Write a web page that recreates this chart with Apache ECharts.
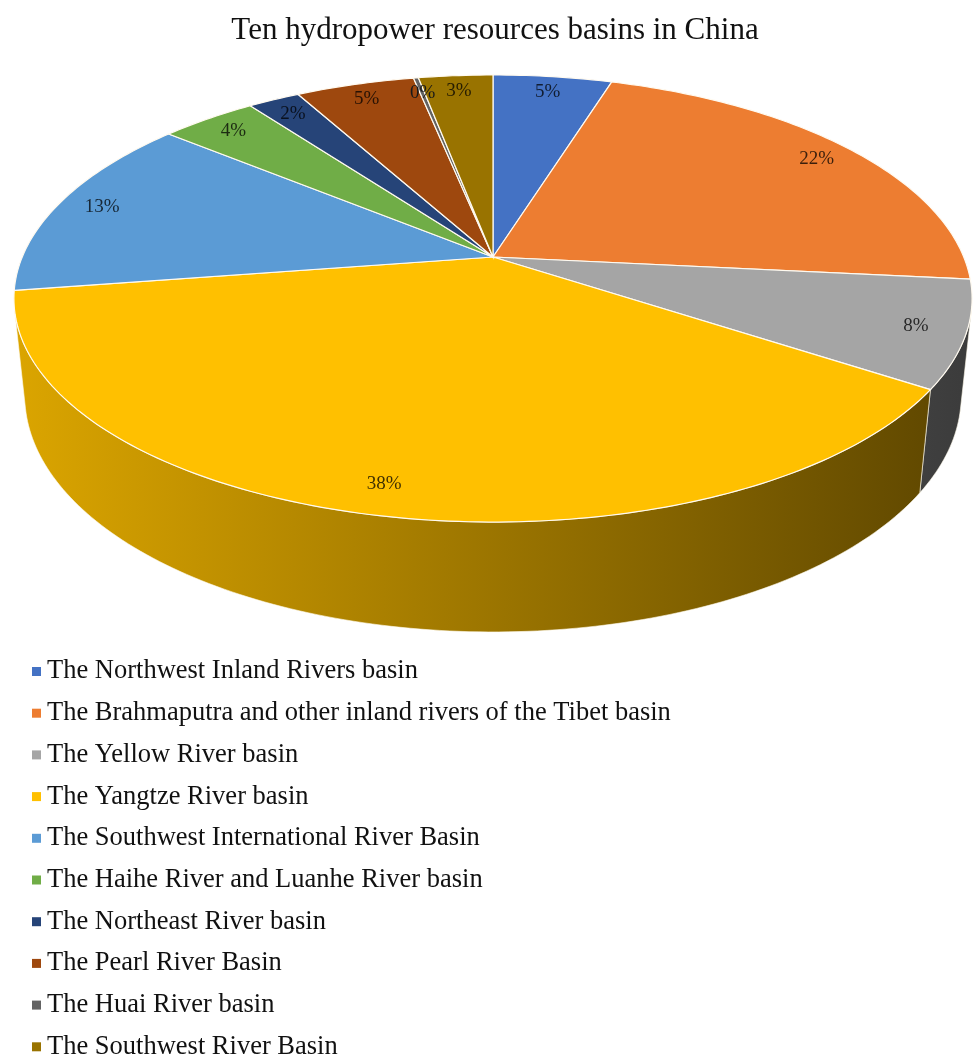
<!DOCTYPE html>
<html><head><meta charset="utf-8">
<script src="https://cdn.jsdelivr.net/npm/echarts@6/dist/echarts.min.js"></script>
<style>html,body{margin:0;padding:0;background:#fff}#c{width:973px;height:1059px}</style>
</head><body><div id="c"></div>
<script>
const chartTitle = 'Ten hydropower resources basins in China';
const basins = [
  'The Northwest Inland Rivers basin',
  'The Brahmaputra and other inland rivers of the Tibet basin',
  'The Yellow River basin',
  'The Yangtze River basin',
  'The Southwest International River Basin',
  'The Haihe River and Luanhe River basin',
  'The Northeast River basin',
  'The Pearl River Basin',
  'The Huai River basin',
  'The Southwest River Basin'
];
const shares = [4.8, 21.8, 7.7, 38.3, 13.4, 3.9, 2.1, 4.8, 0.2, 3.0];
const colors = ['#4472C4','#ED7D31','#A5A5A5','#FFC000','#5B9BD5','#70AD47','#264478','#9E480E','#636363','#997300'];

const total = shares.reduce((a, b) => a + b, 0);
const starts = [];
let acc = 0;
shares.forEach(v => { starts.push(acc); acc += v; });

// perspective view of the disc
const CX = 493, CY = 257, F = 2253, L = 4.786, SIN = 0.4585, COS = Math.sqrt(1 - SIN * SIN), DEPTH = 0.234;
const CAMZ = L * COS;
const VIS_DEG = Math.acos(-1 / CAMZ) * 180 / Math.PI; // wall faces the viewer between VIS_DEG and 360-VIS_DEG
function project(uv, d) {
  const u = uv[0], v = uv[1];
  const yc = -d * COS - v * SIN;
  const zc = d * SIN + L - v * COS;
  return [CX + F * u / zc, CY - F * yc / zc];
}
function shade(hex, k) {
  const n = parseInt(hex.slice(1), 16);
  const r = Math.round(((n >> 16) & 255) * k), g = Math.round(((n >> 8) & 255) * k), b = Math.round((n & 255) * k);
  return 'rgb(' + r + ',' + g + ',' + b + ')';
}

function makeRender(i) {
  return function (params, api) {
    const a0 = api.value(0), a1 = api.value(1);
    const cs = params.coordSys;
    const uvAt = (val, rr) => {
      const p = api.coord([rr, val]);
      return [(p[0] - cs.cx) / cs.r, (p[1] - cs.cy) / cs.r];
    };
    const children = [];
    const sample = (b0, b1) => {
      const n = Math.max(2, Math.ceil((b1 - b0) / total * 360));
      const arr = [];
      for (let k = 0; k <= n; k++) arr.push(b0 + (b1 - b0) * k / n);
      return arr;
    };
    // side wall (visible front part only)
    const w0 = Math.max(a0, total * VIS_DEG / 360), w1 = Math.min(a1, total * (360 - VIS_DEG) / 360);
    if (w1 > w0) {
      const vals = sample(w0, w1);
      const pts = vals.map(v => project(uvAt(v, 1), 0));
      const bottom = vals.slice().reverse().map(v => project(uvAt(v, 1), DEPTH));
      children.push({
        type: 'polygon', z2: 1,
        shape: { points: pts.concat(bottom) },
        style: {
          fill: { type: 'linear', x: 14, y: 0, x2: 972, y2: 0, global: true,
            colorStops: [{ offset: 0, color: shade(colors[i], 0.86) }, { offset: 1, color: shade(colors[i], 0.36) }] },
          stroke: 'rgba(255,250,235,0.6)', lineWidth: 1
        }
      });
    }
    // top face
    const topPts = [project([0, 0], 0)].concat(sample(a0, a1).map(v => project(uvAt(v, 1), 0)));
    children.push({
      type: 'polygon', z2: 10,
      shape: { points: topPts },
      style: { fill: colors[i], stroke: '#fffaf0', lineWidth: 1.2 }
    });
    // label
    const lp = project(uvAt((a0 + a1) / 2, 0.9), 0);
    children.push({
      type: 'text', z2: 20, x: lp[0], y: lp[1],
      style: {
        text: Math.round((a1 - a0) / total * 100) + '%',
        fill: shade(colors[i], 0.25),
        font: '19px "Liberation Serif"',
        align: 'center', verticalAlign: 'middle'
      }
    });
    return { type: 'group', children: children };
  };
}

const chart = echarts.init(document.getElementById('c'), null, { renderer: 'canvas' });
chart.setOption({
  animation: false,
  backgroundColor: '#fff',
  title: {
    text: chartTitle, left: 490, top: 10, textAlign: 'center',
    textStyle: { fontFamily: 'Liberation Serif', fontSize: 31, fontWeight: 'normal', color: '#111' }
  },
  legend: {
    orient: 'vertical', left: 32, top: 658, height: 450, padding: 0,
    itemWidth: 9, itemHeight: 9, itemGap: 14.7, icon: 'rect',
    textStyle: { fontFamily: 'Liberation Serif', fontSize: 26.5, color: '#111', padding: [0, 0, 0, 1] },
    data: basins, selectedMode: false
  },
  polar: { center: [100, 100], radius: 50 },
  angleAxis: { type: 'value', min: 0, max: total, startAngle: 90, clockwise: true, show: false },
  radiusAxis: { type: 'value', min: 0, max: 1, show: false },
  series: basins.map((name, i) => ({
    type: 'custom', name: name, coordinateSystem: 'polar', silent: true,
    itemStyle: { color: colors[i] },
    data: [[starts[i], starts[i] + shares[i]]],
    renderItem: makeRender(i)
  }))
});
</script>
</body></html>
